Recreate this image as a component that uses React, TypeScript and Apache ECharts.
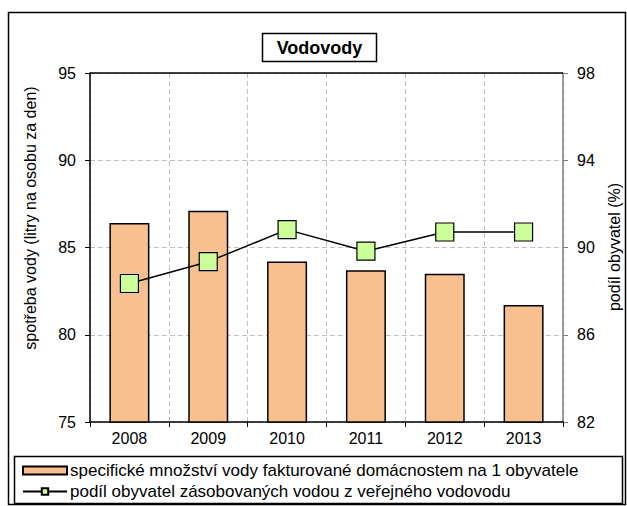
import React, { useEffect, useRef } from "react";
import * as echarts from "echarts";

const years = ["2008", "2009", "2010", "2011", "2012", "2013"];
const consumption = [86.4, 87.1, 84.2, 83.7, 83.5, 81.7];
const sharePct = [88.35, 89.35, 90.82, 89.83, 90.71, 90.71];
const barName = "specifické množství vody fakturované domácnostem na 1 obyvatele";
const lineName = "podíl obyvatel zásobovaných vodou z veřejného vodovodu";
const leftAxisName = "spotřeba vody (litry na osobu za den)";
const rightAxisName = "podíl obyvatel (%)";
const FONT = "Liberation Sans, Arial, sans-serif";

export default function App() {
  const ref = useRef<HTMLDivElement>(null);
  useEffect(() => {
    if (!ref.current) return;
    const chart = echarts.init(ref.current, null, { renderer: "svg" });
    chart.setOption({
      animation: false,
      backgroundColor: "#ffffff",
      textStyle: { fontFamily: FONT },
      grid: {
        left: 90,
        right: 64,
        top: 73,
        bottom: 84,
        show: false,
        containLabel: false,
      },
      xAxis: {
        type: "category",
        data: years,
        boundaryGap: true,
        axisLine: { lineStyle: { color: "#000000", width: 1.5 } },
        axisTick: { show: true, length: 5, lineStyle: { color: "#000000" } },
        axisLabel: { color: "#000000", fontSize: 16, fontFamily: FONT, margin: 8 },
        splitLine: { show: true, lineStyle: { color: "#c0c0c0", type: [5, 3], width: 1 } },
      },
      yAxis: [
        {
          type: "value",
          min: 75,
          max: 95,
          interval: 5,
          position: "left",
          axisLine: { show: true, lineStyle: { color: "#000000", width: 1.5 } },
          axisTick: { show: true, length: 5, lineStyle: { color: "#000000" } },
          axisLabel: { color: "#000000", fontSize: 16, fontFamily: FONT, margin: 14 },
          splitLine: { show: true, lineStyle: { color: "#c0c0c0", type: [5, 3], width: 1 } },
        },
        {
          type: "value",
          min: 82,
          max: 98,
          interval: 4,
          position: "right",
          axisLine: { show: true, lineStyle: { color: "#808080", width: 1.5 } },
          axisTick: { show: true, length: 5, lineStyle: { color: "#808080" } },
          axisLabel: { color: "#000000", fontSize: 16, fontFamily: FONT, margin: 14 },
          splitLine: { show: false },
        },
      ],
      legend: {
        left: 22,
        top: 462,
        orient: "vertical",
        itemGap: 4,
        itemWidth: 44,
        itemHeight: 8,
        padding: 0,
        textStyle: { color: "#000000", fontSize: 17, lineHeight: 17, fontFamily: FONT, padding: [0, 0, 0, -2] },
        data: [
          { name: barName, icon: "rect" },
          { name: lineName },
        ],
      },
      graphic: [
        {
          type: "rect",
          shape: { x: 8.5, y: 12.5, width: 617, height: 492 },
          style: { fill: "none", stroke: "#000000", lineWidth: 1.5 },
          silent: true,
          z: -10,
        },
        {
          type: "line",
          shape: { x1: 90, y1: 73, x2: 563, y2: 73 },
          style: { stroke: "#000000", lineWidth: 1.5 },
          silent: true,
          z: 3,
        },
        {
          type: "rect",
          shape: { x: 14.5, y: 456.5, width: 608, height: 47 },
          style: { fill: "none", stroke: "#000000", lineWidth: 1.5 },
          silent: true,
        },
        {
          type: "rect",
          shape: { x: 262.5, y: 33.5, width: 114, height: 28 },
          style: { fill: "#ffffff", stroke: "#000000", lineWidth: 1.5 },
          silent: true,
        },
        {
          type: "text",
          x: 319.5,
          y: 47.5,
          style: {
            text: "Vodovody",
            fontSize: 18,
            fontWeight: "bold",
            fontFamily: FONT,
            fill: "#000000",
            align: "center",
            verticalAlign: "middle",
          },
          silent: true,
        },
        {
          type: "text",
          x: 30,
          y: 218,
          rotation: Math.PI / 2,
          style: {
            text: leftAxisName,
            fontSize: 16,
            fontFamily: FONT,
            fill: "#000000",
            align: "center",
            verticalAlign: "middle",
          },
          silent: true,
        },
        {
          type: "text",
          x: 614,
          y: 247,
          rotation: Math.PI / 2,
          style: {
            text: rightAxisName,
            fontSize: 16,
            fontFamily: FONT,
            fill: "#000000",
            align: "center",
            verticalAlign: "middle",
          },
          silent: true,
        },
      ],
      series: [
        {
          name: barName,
          type: "bar",
          yAxisIndex: 0,
          data: consumption,
          barWidth: 40,
          itemStyle: { color: "#F9C08F", borderColor: "#000000", borderWidth: 1.5 },
        },
        {
          name: lineName,
          type: "line",
          yAxisIndex: 1,
          data: sharePct,
          symbol: "rect",
          symbolSize: 18,
          lineStyle: { color: "#000000", width: 1.5 },
          itemStyle: { color: "#CCFF99", borderColor: "#000000", borderWidth: 1.2 },
          z: 5,
        },
      ],
    });
    return () => chart.dispose();
  }, []);
  return (
    <div
      ref={ref}
      style={{ position: "fixed", left: 0, top: 0, width: 627, height: 506 }}
    />
  );
}
